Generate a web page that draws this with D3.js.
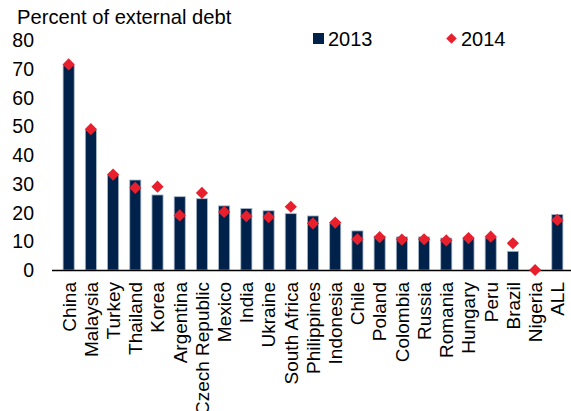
<!DOCTYPE html>
<html>
<head>
<meta charset="utf-8">
<script src="https://cdn.jsdelivr.net/npm/d3@7"></script>
<style>
  body { margin: 0; background: #fff; }
  text { font-family: Arial, "Liberation Sans", sans-serif; fill: #000; }
</style>
</head>
<body>
<div id="chart"></div>
<script>
// chart data
let countries = ["China", "Malaysia", "Turkey", "Thailand", "Korea", "Argentina", "Czech Republic",
                 "Mexico", "India", "Ukraine", "South Africa", "Philippines", "Indonesia", "Chile",
                 "Poland", "Colombia", "Russia", "Romania", "Hungary", "Peru", "Brazil", "Nigeria", "ALL"]
let values2013 = [71.3, 48.7, 33.0, 31.3, 26.1, 25.5, 24.8, 22.3, 21.4, 20.6, 19.6, 18.8, 16.2, 13.6,
                  11.8, 11.5, 11.5, 11.1, 11.1, 11.2, 6.5, 0, 19.3]
let values2014 = [71.5, 49.0, 33.2, 28.6, 29.0, 19.0, 26.8, 20.2, 18.7, 18.4, 22.0, 16.2, 16.5, 10.7,
                  11.4, 10.6, 10.7, 10.3, 11.1, 11.6, 9.3, 0, 17.4]
let yTicks = [0, 10, 20, 30, 40, 50, 60, 70, 80]
let seriesNames = ["2013", "2014"]

let width = 571, height = 411

let svg = d3.select("#chart")
    .append("svg")
    .attr("width", width)
    .attr("height", height)

let x = d3.scaleBand()
    .domain(countries)
    .range([52, 574])
    .padding(0.5)

let y = d3.scaleLinear()
    .domain([0, 80])
    .range([270, 40])

// title
svg.append("text")
    .attr("x", 17)
    .attr("y", 24)
    .style("font-size", "20.2px")
    .text("Percent of external debt")

// y tick labels (no axis line)
svg.append("g")
    .selectAll("text")
    .data(yTicks)
    .join("text")
    .attr("x", 34)
    .attr("y", d => y(d))
    .attr("dy", "0.36em")
    .attr("text-anchor", "end")
    .style("font-size", "19.5px")
    .text(d => d)

// bars for 2013
svg.append("g")
    .selectAll("rect")
    .data(countries)
    .join("rect")
    .attr("x", d => x(d))
    .attr("y", (d, i) => y(values2013[i]))
    .attr("width", x.bandwidth())
    .attr("height", (d, i) => y(0) - y(values2013[i]))
    .attr("fill", "#00224a")
    .attr("stroke", "#a9b8cc")
    .attr("stroke-width", 0.8)

// x axis
let xAxis = svg.append("g")
    .attr("transform", "translate(0," + y(0) + ")")
    .call(d3.axisBottom(x).tickSize(0).tickPadding(0))

xAxis.select(".domain")
    .attr("d", "M52,0.5H571")
    .attr("stroke", "#000")
    .attr("stroke-width", 1.5)

xAxis.selectAll("text")
    .attr("transform", "rotate(-90)")
    .attr("x", -12)
    .attr("y", 0)
    .attr("dy", "0.36em")
    .attr("text-anchor", "end")
    .style("font-size", "19px")
    .style("font-family", "Arial, 'Liberation Sans', sans-serif")

// diamonds for 2014
let diamond = d3.symbol().type(d3.symbolDiamond2).size(95)

svg.append("g")
    .selectAll("path")
    .data(countries)
    .join("path")
    .attr("d", diamond)
    .attr("transform", (d, i) => "translate(" + (x(d) + x.bandwidth() / 2) + "," + y(values2014[i]) + ")")
    .attr("fill", "#e8202e")

// legend
let legend = svg.append("g")
legend.append("rect")
    .attr("x", 313).attr("y", 33)
    .attr("width", 11).attr("height", 11)
    .attr("fill", "#00224a")
legend.append("text")
    .attr("x", 328).attr("y", 46)
    .style("font-size", "20px")
    .text(seriesNames[0])
legend.append("path")
    .attr("d", d3.symbol().type(d3.symbolDiamond2).size(70))
    .attr("transform", "translate(451.5,38.5)")
    .attr("fill", "#e8202e")
legend.append("text")
    .attr("x", 461).attr("y", 46)
    .style("font-size", "20px")
    .text(seriesNames[1])
</script>
</body>
</html>
